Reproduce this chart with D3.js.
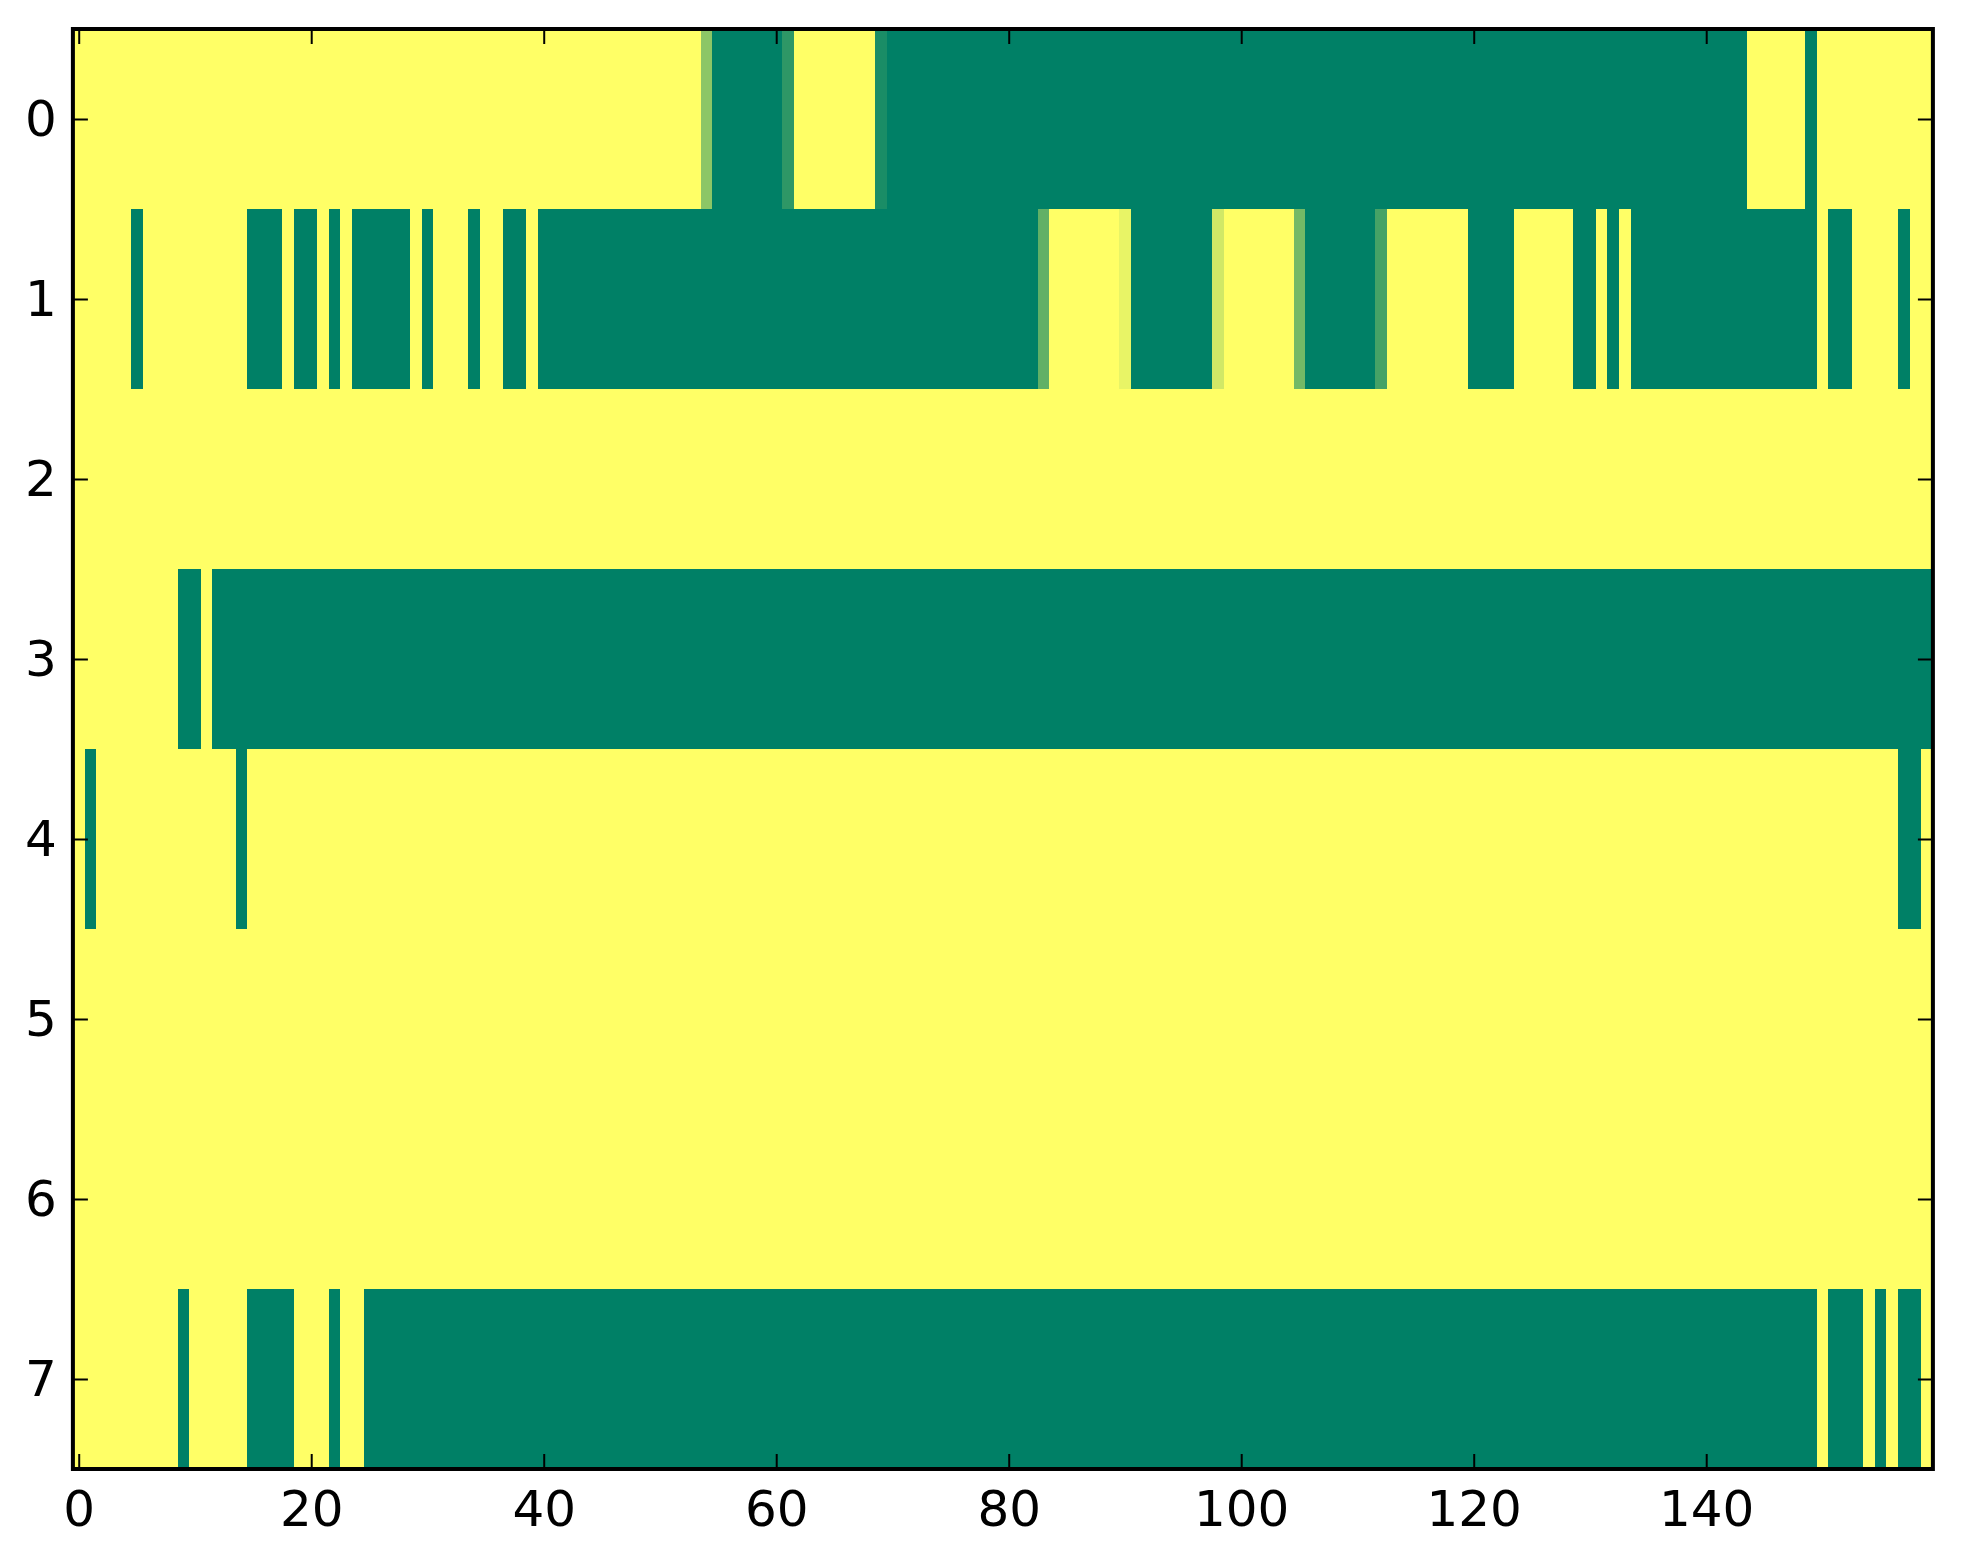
<!DOCTYPE html>
<html>
<head>
<meta charset="utf-8">
<script src="https://cdn.jsdelivr.net/npm/d3@7/dist/d3.min.js"></script>
<style>
  html, body { margin: 0; padding: 0; background: #ffffff; }
  svg { display: block; }
  text { font-family: "DejaVu Sans", sans-serif; }
</style>
</head>
<body>
<svg id="chart" width="1963" height="1564"></svg>
<script>
// ---- data (1 = yellow, 0 = green) ----
const row0 = [
  1,1,1,1,1,1,1,1,1,1, 1,1,1,1,1,1,1,1,1,1,
  1,1,1,1,1,1,1,1,1,1, 1,1,1,1,1,1,1,1,1,1,
  1,1,1,1,1,1,1,1,1,1, 1,1,1,1,0.55,0,0,0,0,0,
  0,0.18,1,1,1,1,1,1,1,0.1, 0,0,0,0,0,0,0,0,0,0,
  0,0,0,0,0,0,0,0,0,0, 0,0,0,0,0,0,0,0,0,0,
  0,0,0,0,0,0,0,0,0,0, 0,0,0,0,0,0,0,0,0,0,
  0,0,0,0,0,0,0,0,0,0, 0,0,0,0,0,0,0,0,0,0,
  0,0,0,0,1,1,1,1,1,0, 1,1,1,1,1,1,1,1,1,1
];
const row1 = [
  1,1,1,1,1,0,1,1,1,1, 1,1,1,1,1,0,0,0,1,0,
  0,1,0,1,0,0,0,0,0,1, 0,1,1,1,0,1,1,0,0,1,
  0,0,0,0,0,0,0,0,0,0, 0,0,0,0,0,0,0,0,0,0,
  0,0,0,0,0,0,0,0,0,0, 0,0,0,0,0,0,0,0,0,0,
  0,0,0,0.38,1,1,1,1,1,1, 0.91,0,0,0,0,0,0,0,0.82,1,
  1,1,1,1,1,0.45,0,0,0,0, 0,0,0.27,1,1,1,1,1,1,1,
  0,0,0,0,1,1,1,1,1,0, 0,1,0,1,0,0,0,0,0,0,
  0,0,0,0,0,0,0,0,0,0, 1,0,0,1,1,1,1,0,1,1
];
const row2 = [
  1,1,1,1,1,1,1,1,1,1, 1,1,1,1,1,1,1,1,1,1,
  1,1,1,1,1,1,1,1,1,1, 1,1,1,1,1,1,1,1,1,1,
  1,1,1,1,1,1,1,1,1,1, 1,1,1,1,1,1,1,1,1,1,
  1,1,1,1,1,1,1,1,1,1, 1,1,1,1,1,1,1,1,1,1,
  1,1,1,1,1,1,1,1,1,1, 1,1,1,1,1,1,1,1,1,1,
  1,1,1,1,1,1,1,1,1,1, 1,1,1,1,1,1,1,1,1,1,
  1,1,1,1,1,1,1,1,1,1, 1,1,1,1,1,1,1,1,1,1,
  1,1,1,1,1,1,1,1,1,1, 1,1,1,1,1,1,1,1,1,1
];
const row3 = [
  1,1,1,1,1,1,1,1,1,0, 0,1,0,0,0,0,0,0,0,0,
  0,0,0,0,0,0,0,0,0,0, 0,0,0,0,0,0,0,0,0,0,
  0,0,0,0,0,0,0,0,0,0, 0,0,0,0,0,0,0,0,0,0,
  0,0,0,0,0,0,0,0,0,0, 0,0,0,0,0,0,0,0,0,0,
  0,0,0,0,0,0,0,0,0,0, 0,0,0,0,0,0,0,0,0,0,
  0,0,0,0,0,0,0,0,0,0, 0,0,0,0,0,0,0,0,0,0,
  0,0,0,0,0,0,0,0,0,0, 0,0,0,0,0,0,0,0,0,0,
  0,0,0,0,0,0,0,0,0,0, 0,0,0,0,0,0,0,0,0,0
];
const row4 = [
  1,0,1,1,1,1,1,1,1,1, 1,1,1,1,0,1,1,1,1,1,
  1,1,1,1,1,1,1,1,1,1, 1,1,1,1,1,1,1,1,1,1,
  1,1,1,1,1,1,1,1,1,1, 1,1,1,1,1,1,1,1,1,1,
  1,1,1,1,1,1,1,1,1,1, 1,1,1,1,1,1,1,1,1,1,
  1,1,1,1,1,1,1,1,1,1, 1,1,1,1,1,1,1,1,1,1,
  1,1,1,1,1,1,1,1,1,1, 1,1,1,1,1,1,1,1,1,1,
  1,1,1,1,1,1,1,1,1,1, 1,1,1,1,1,1,1,1,1,1,
  1,1,1,1,1,1,1,1,1,1, 1,1,1,1,1,1,1,0,0,1
];
const row5 = [
  1,1,1,1,1,1,1,1,1,1, 1,1,1,1,1,1,1,1,1,1,
  1,1,1,1,1,1,1,1,1,1, 1,1,1,1,1,1,1,1,1,1,
  1,1,1,1,1,1,1,1,1,1, 1,1,1,1,1,1,1,1,1,1,
  1,1,1,1,1,1,1,1,1,1, 1,1,1,1,1,1,1,1,1,1,
  1,1,1,1,1,1,1,1,1,1, 1,1,1,1,1,1,1,1,1,1,
  1,1,1,1,1,1,1,1,1,1, 1,1,1,1,1,1,1,1,1,1,
  1,1,1,1,1,1,1,1,1,1, 1,1,1,1,1,1,1,1,1,1,
  1,1,1,1,1,1,1,1,1,1, 1,1,1,1,1,1,1,1,1,1
];
const row6 = [
  1,1,1,1,1,1,1,1,1,1, 1,1,1,1,1,1,1,1,1,1,
  1,1,1,1,1,1,1,1,1,1, 1,1,1,1,1,1,1,1,1,1,
  1,1,1,1,1,1,1,1,1,1, 1,1,1,1,1,1,1,1,1,1,
  1,1,1,1,1,1,1,1,1,1, 1,1,1,1,1,1,1,1,1,1,
  1,1,1,1,1,1,1,1,1,1, 1,1,1,1,1,1,1,1,1,1,
  1,1,1,1,1,1,1,1,1,1, 1,1,1,1,1,1,1,1,1,1,
  1,1,1,1,1,1,1,1,1,1, 1,1,1,1,1,1,1,1,1,1,
  1,1,1,1,1,1,1,1,1,1, 1,1,1,1,1,1,1,1,1,1
];
const row7 = [
  1,1,1,1,1,1,1,1,1,0, 1,1,1,1,1,0,0,0,0,1,
  1,1,0,1,1,0,0,0,0,0, 0,0,0,0,0,0,0,0,0,0,
  0,0,0,0,0,0,0,0,0,0, 0,0,0,0,0,0,0,0,0,0,
  0,0,0,0,0,0,0,0,0,0, 0,0,0,0,0,0,0,0,0,0,
  0,0,0,0,0,0,0,0,0,0, 0,0,0,0,0,0,0,0,0,0,
  0,0,0,0,0,0,0,0,0,0, 0,0,0,0,0,0,0,0,0,0,
  0,0,0,0,0,0,0,0,0,0, 0,0,0,0,0,0,0,0,0,0,
  0,0,0,0,0,0,0,0,0,0, 1,0,0,0,1,0,1,0,0,1
];
const rows = [row0, row1, row2, row3, row4, row5, row6, row7];
const xTicks = [0, 20, 40, 60, 80, 100, 120, 140];
const yTicks = [0, 1, 2, 3, 4, 5, 6, 7];

// ---- layout ----
const L = 72.9, R = 1932.9, T = 29, B = 1469;
const svg = d3.select("#chart");
const nCols = row0.length, nRows = rows.length;

const x = d3.scaleLinear().domain([-0.5, nCols - 0.5]).range([L, R]);
const y = d3.scaleLinear().domain([-0.5, nRows - 0.5]).range([T, B]);
// matplotlib "summer" colormap: (0,0.5,0.4) -> (1,1,0.4)
const color = d3.scaleLinear().domain([0, 1])
  .range(["rgb(0,128,102)", "rgb(255,255,102)"])
  .interpolate(d3.interpolateRgb);

const cells = [];
rows.forEach((r, ri) => r.forEach((v, ci) => cells.push({ r: ri, c: ci, v })));

svg.append("g")
  .selectAll("rect")
  .data(cells)
  .join("rect")
  .attr("x", d => x(d.c - 0.5))
  .attr("y", d => y(d.r - 0.5))
  .attr("width", d => x(d.c + 0.5) - x(d.c - 0.5) + 0.6)
  .attr("height", d => y(d.r + 0.5) - y(d.r - 0.5) + 0.6)
  .attr("fill", d => color(d.v))
  .attr("shape-rendering", "crispEdges");

// ---- axes (ticks inward on all four sides) ----
const tickLen = 15, fontSize = 50;
function styleAxis(g, showLabels) {
  g.select(".domain").remove();
  g.selectAll(".tick line").attr("stroke", "#000").attr("stroke-width", 2);
  g.selectAll(".tick text")
    .attr("fill", "#000")
    .style("font-family", '"DejaVu Sans", sans-serif')
    .style("font-size", fontSize + "px");
  if (!showLabels) g.selectAll(".tick text").remove();
}

svg.append("g").attr("transform", `translate(0,${B})`)
  .call(d3.axisBottom(x).tickValues(xTicks).tickSize(-tickLen).tickPadding(21.5).tickFormat(d3.format("d")))
  .call(g => styleAxis(g, true));
svg.append("g").attr("transform", `translate(0,${T})`)
  .call(d3.axisTop(x).tickValues(xTicks).tickSize(-tickLen))
  .call(g => styleAxis(g, false));
svg.append("g").attr("transform", `translate(${L},0)`)
  .call(d3.axisLeft(y).tickValues(yTicks).tickSize(-tickLen).tickPadding(16).tickFormat(d3.format("d")))
  .call(g => styleAxis(g, true));
svg.append("g").attr("transform", `translate(${R},0)`)
  .call(d3.axisRight(y).tickValues(yTicks).tickSize(-tickLen))
  .call(g => styleAxis(g, false));

// frame
svg.append("rect")
  .attr("x", L).attr("y", T)
  .attr("width", R - L).attr("height", B - T)
  .attr("fill", "none").attr("stroke", "#000").attr("stroke-width", 4);
</script>
</body>
</html>
